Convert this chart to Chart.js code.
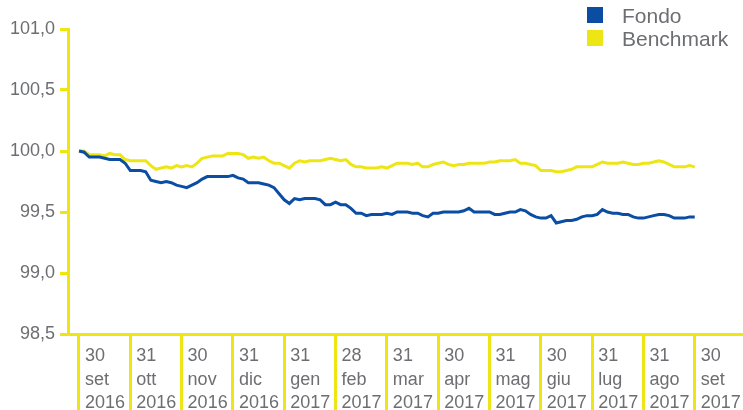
<!DOCTYPE html>
<html>
<head>
<meta charset="utf-8">
<script src="https://cdn.jsdelivr.net/npm/chart.js@4/dist/chart.umd.min.js"></script>
<style>
  html, body { margin: 0; padding: 0; background: #fff; }
  #wrap { position: relative; width: 743px; height: 410px; }
  #legend { position: absolute; left: 587px; top: 4px; font-family: "Liberation Sans", Arial, sans-serif; font-size: 21px; color: #6d6e71; }
  .item { position: relative; height: 23px; line-height: 23px; padding-left: 35px; white-space: nowrap; }
  .sw { position: absolute; left: 0; top: 3px; width: 16px; height: 16px; }
</style>
</head>
<body>
<div id="wrap">
  <canvas id="c" width="743" height="410"></canvas>
  <div id="legend"></div>
</div>
<script>
// Tick labels (month ends)
const monthLabels = [
  ["30","set","2016"],["31","ott","2016"],["30","nov","2016"],["31","dic","2016"],
  ["31","gen","2017"],["28","feb","2017"],["31","mar","2017"],["30","apr","2017"],
  ["31","mag","2017"],["30","giu","2017"],["31","lug","2017"],["31","ago","2017"],
  ["30","set","2017"]
];
const seriesNames = ["Fondo", "Benchmark"];
const pointsPerMonth = 10;

// Fondo (10 readings per month, 30 set 2016 -> 30 set 2017)
const fondo = [
  100.00, 99.99, 99.95, 99.95, 99.95, 99.94, 99.93, 99.93, 99.93, 99.90, 99.84,
  99.84, 99.84, 99.83, 99.76, 99.75, 99.74, 99.75, 99.74, 99.72, 99.71,
  99.70, 99.72, 99.74, 99.77, 99.79, 99.79, 99.79, 99.79, 99.79, 99.80,
  99.78, 99.77, 99.74, 99.74, 99.74, 99.73, 99.72, 99.70, 99.65, 99.60,
  99.57, 99.61, 99.60, 99.61, 99.61, 99.61, 99.60, 99.56, 99.56, 99.58,
  99.56, 99.56, 99.53, 99.49, 99.49, 99.47, 99.48, 99.48, 99.48, 99.49,
  99.48, 99.50, 99.50, 99.50, 99.49, 99.49, 99.47, 99.46, 99.49, 99.49,
  99.50, 99.50, 99.50, 99.50, 99.51, 99.53, 99.50, 99.50, 99.50, 99.50,
  99.48, 99.48, 99.49, 99.50, 99.50, 99.52, 99.51, 99.48, 99.46, 99.45,
  99.45, 99.47, 99.41, 99.42, 99.43, 99.43, 99.44, 99.46, 99.47, 99.47,
  99.48, 99.52, 99.50, 99.49, 99.49, 99.48, 99.48, 99.46, 99.45, 99.45,
  99.46, 99.47, 99.48, 99.48, 99.47, 99.45, 99.45, 99.45, 99.46, 99.46
];
// Benchmark
const benchmark = [
  100.00, 100.00, 99.97, 99.97, 99.97, 99.96, 99.98, 99.97, 99.97, 99.93, 99.92,
  99.92, 99.92, 99.92, 99.88, 99.85, 99.86, 99.87, 99.86, 99.88, 99.87,
  99.88, 99.87, 99.90, 99.94, 99.95, 99.96, 99.96, 99.96, 99.98, 99.98,
  99.98, 99.97, 99.94, 99.95, 99.94, 99.95, 99.92, 99.90, 99.90, 99.88,
  99.86, 99.90, 99.92, 99.91, 99.92, 99.92, 99.92, 99.93, 99.94, 99.93,
  99.92, 99.93, 99.89, 99.87, 99.87, 99.86, 99.86, 99.86, 99.87, 99.86,
  99.88, 99.90, 99.90, 99.90, 99.89, 99.90, 99.87, 99.87, 99.89, 99.90,
  99.91, 99.89, 99.88, 99.89, 99.89, 99.90, 99.90, 99.90, 99.90, 99.91,
  99.91, 99.92, 99.92, 99.92, 99.93, 99.90, 99.90, 99.89, 99.88, 99.84,
  99.84, 99.84, 99.83, 99.83, 99.84, 99.85, 99.87, 99.87, 99.87, 99.87,
  99.89, 99.91, 99.90, 99.90, 99.90, 99.91, 99.90, 99.89, 99.89, 99.90,
  99.90, 99.91, 99.92, 99.91, 99.89, 99.87, 99.87, 99.87, 99.88, 99.87
];
const yTicks = [98.5, 99.0, 99.5, 100.0, 100.5, 101.0];

const BLUE = '#0a4da3';
const YELLOW = '#eee614';
const GREY = '#6d6e71';
const FONT = '"Liberation Sans", Arial, sans-serif';

const toXY = arr => arr.map((v, i) => ({ x: i / pointsPerMonth, y: v }));

const chart = new Chart(document.getElementById('c'), {
  type: 'line',
  data: {
    datasets: [
      { label: seriesNames[0], data: toXY(fondo), borderColor: BLUE, backgroundColor: BLUE, borderWidth: 3, pointRadius: 0, tension: 0, order: 1 },
      { label: seriesNames[1], data: toXY(benchmark), borderColor: YELLOW, backgroundColor: YELLOW, borderWidth: 3, pointRadius: 0, tension: 0, order: 2 }
    ]
  },
  options: {
    responsive: false,
    animation: false,
    layout: { padding: { top: 29, right: 0, left: 0, bottom: 0 } },
    plugins: { legend: { display: false }, tooltip: { enabled: false } },
    scales: {
      x: {
        type: 'linear',
        min: -0.214,
        max: 12.94,
        afterBuildTicks: s => { s.ticks = monthLabels.map((_, i) => ({ value: i })); },
        afterFit: s => { s.height = 76; },
        border: { color: YELLOW, width: 3 },
        grid: { drawOnChartArea: false, drawTicks: true, tickLength: 76, color: YELLOW, lineWidth: 3 },
        ticks: {
          autoSkip: false, maxRotation: 0, align: 'start', labelOffset: 6, padding: -65,
          color: GREY, font: { family: FONT, size: 18, lineHeight: 1.28 },
          callback: v => monthLabels[Math.round(v)]
        }
      },
      y: {
        min: 98.5,
        max: 101,
        afterBuildTicks: s => { s.ticks = yTicks.map(v => ({ value: v })); },
        afterFit: s => { s.width = 68; },
        border: { color: YELLOW, width: 3 },
        grid: { drawOnChartArea: false, drawTicks: true, tickLength: 8, color: YELLOW, lineWidth: 3 },
        ticks: {
          color: GREY, padding: 5, font: { family: FONT, size: 18 },
          callback: v => v.toFixed(1).replace('.', ',')
        }
      }
    }
  }
});

// HTML legend built from the datasets
const leg = document.getElementById('legend');
chart.data.datasets.forEach(ds => {
  const d = document.createElement('div');
  d.className = 'item';
  d.innerHTML = '<span class="sw" style="background:' + ds.borderColor + '"></span>' + ds.label;
  leg.appendChild(d);
});
</script>
</body>
</html>
